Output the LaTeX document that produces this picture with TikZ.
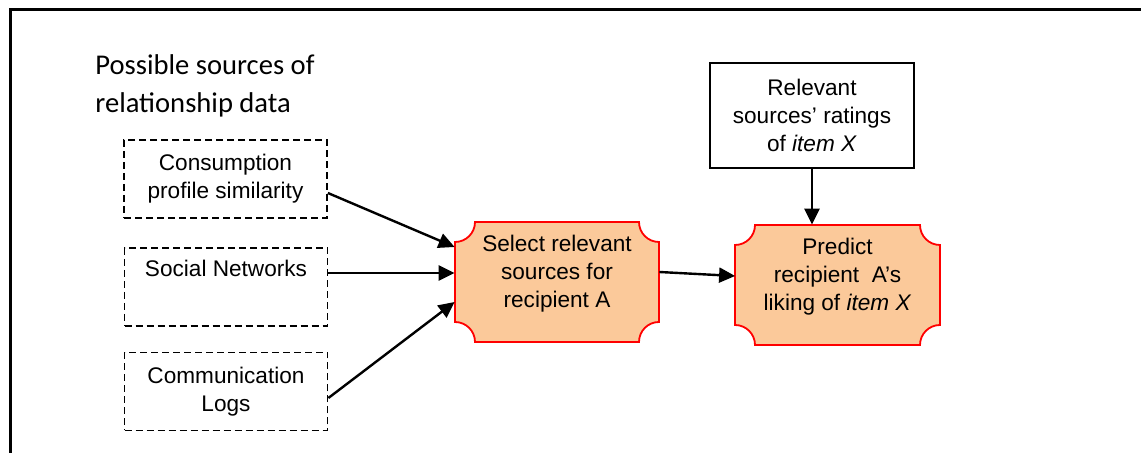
\documentclass[tikz,border=0pt]{standalone}
\usepackage{fontspec}
\setmainfont{Liberation Sans}
\newfontfamily\calibri{Carlito}
\usetikzlibrary{arrows.meta}
\definecolor{plaquefill}{RGB}{251,201,154}
\newcommand{\srcfont}{\fontsize{11.3pt}{14pt}\selectfont}
\newcommand{\plaque}[4]{ \filldraw[red, fill=plaquefill, line width=0.9pt] ( #1 + 20 , #2 ) -- ( #3 - 20 , #2 ) arc(180:90:20) -- ( #3 , #4 - 20 ) arc(270:180:20) -- ( #1 + 20 , #4 ) arc(0:-90:20) -- ( #1 , #2 + 20 ) arc(90:0:20) -- cycle;}
\tikzset{
  srcbox/.style={draw, dash pattern=on 3.5pt off 2pt, line width=0.9pt, minimum width=101.5pt, minimum height=39pt, align=center, font=\srcfont, inner sep=2pt},
  ratebox/.style={draw, line width=0.9pt, minimum width=102pt, minimum height=52.5pt, align=center, font=\srcfont},
  plaquetext/.style={minimum width=102pt, minimum height=60pt, align=center, font=\srcfont, inner sep=0pt, text depth=11pt},
  link/.style={-{Triangle[length=8pt,width=7.5pt]}, line width=1.2pt}
}
\begin{document}
\begin{tikzpicture}[x=0.5pt, y=-0.5pt]
    \useasboundingbox (0,0) rectangle (1141,453);
    % frame
    \draw[line width=1.5pt] (10.5,470) -- (10.5,10) -- (1160,10);
    % title
    \node[font=\calibri\fontsize{14.3pt}{19pt}\selectfont, align=left, anchor=west, inner sep=0pt] (title) at (95,86) {Possible sources of\\relationship data};
    % sources
    \node[srcbox] (cons) at (225.5,179) {Consumption\\profile similarity};
    \node[srcbox, text depth=19pt] (social) at (226,287) {Social Networks};
    \node[srcbox] (comm) at (226,391.5) {Communication\\Logs};
    % plaques
    \plaque{455}{222}{659}{342}
    \node[plaquetext] (select) at (557,282) {Select relevant\\sources for\\recipient A};
    \plaque{735}{225}{940}{345}
    \node[plaquetext] (predict) at (837.5,285) {Predict\\recipient\ \ A{\textquoteright}s\\liking of \textit{item X}};
    % ratings
    \node[ratebox] (ratings) at (812,115.5) {Relevant\\sources{\textquoteright} ratings\\of \textit{item X}};
    % arrows
    \draw[link] ([yshift=-7pt]cons.east) -- ([yshift=17.5pt]select.west);
    \draw[link] ([yshift=7pt]social.east) -- ([yshift=4.5pt]select.west);
    \draw[link] ([yshift=-3.25pt]comm.east) -- ([yshift=-10pt]select.west);
    \draw[link] ([yshift=5pt]select.east) -- ([yshift=4.5pt]predict.west);
    \draw[link] (ratings.south) -- (ratings.south |- predict.north);
\end{tikzpicture}
\end{document}
